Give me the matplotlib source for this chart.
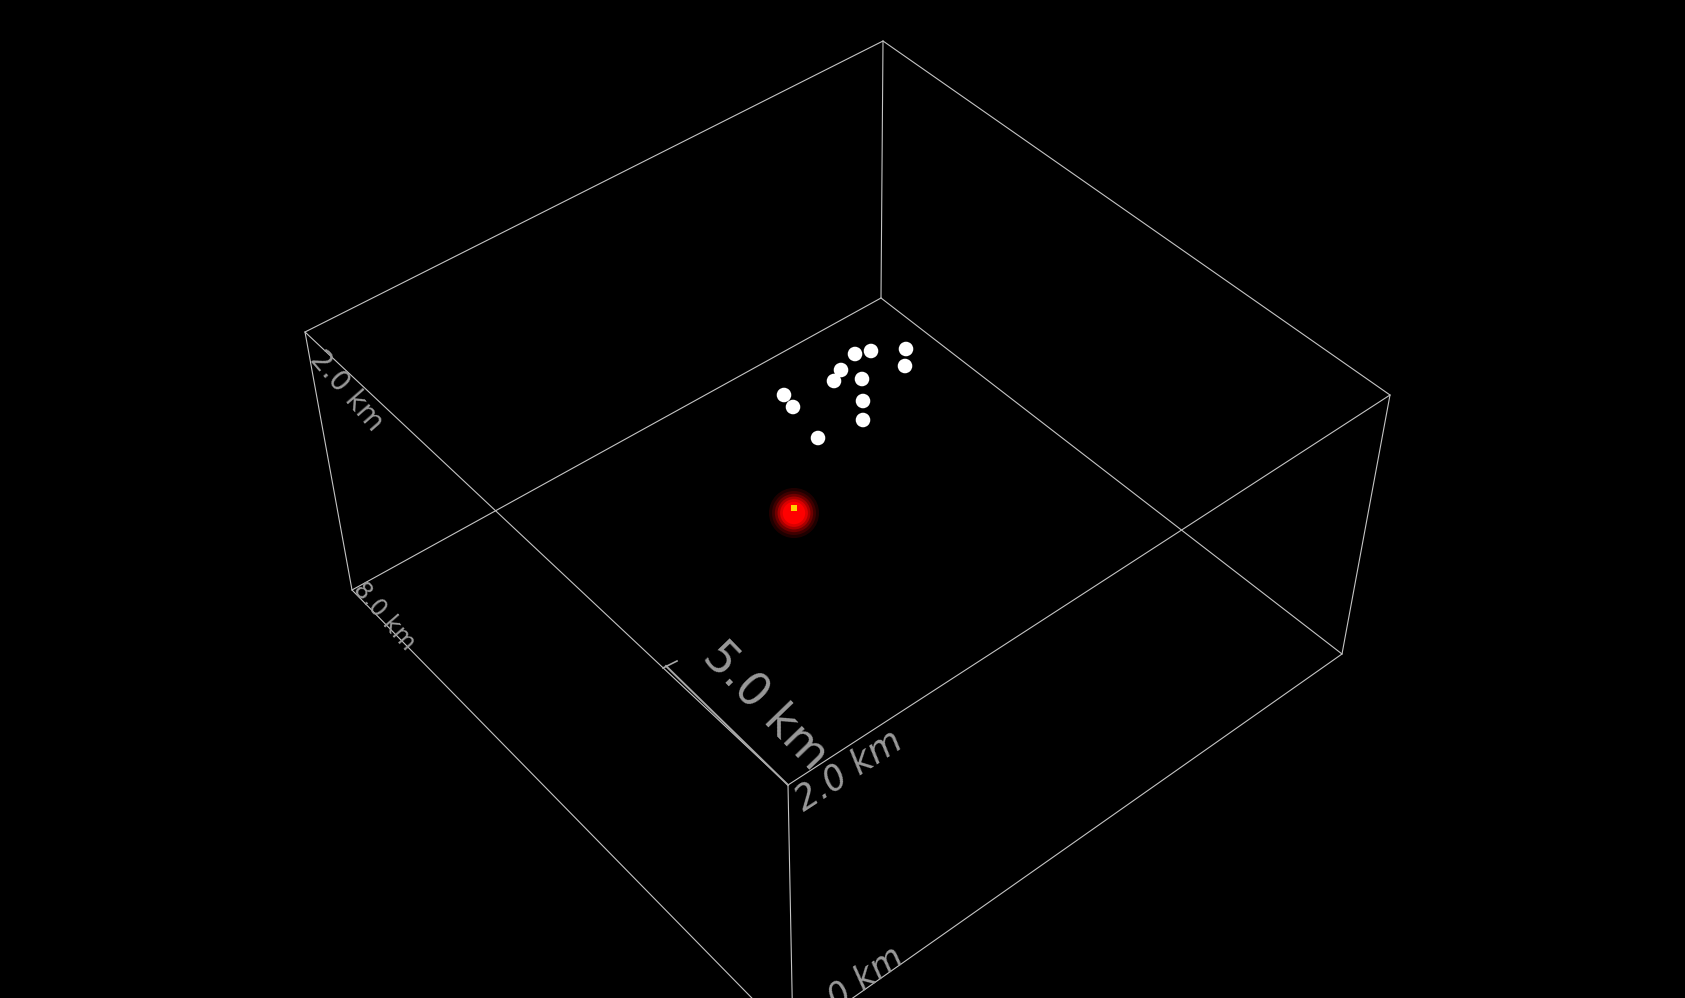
import numpy as np
import matplotlib
matplotlib.use("Agg")
import matplotlib.pyplot as plt

# Projected box corners (screen pixels)
top_back = (883, 41)
top_left = (305, 332)
top_right = (1390, 395)
top_front = (788, 785)
bot_back = (881, 298)
bot_left = (352, 590)
bot_right = (1342, 654)
bot_front = (793, 1040)   # below the frame

edges = [
    (top_back, top_left), (top_back, top_right),
    (top_left, top_front), (top_right, top_front),
    (top_back, bot_back), (top_left, bot_left),
    (top_right, bot_right), (top_front, bot_front),
    (bot_back, bot_left), (bot_back, bot_right),
    (bot_left, bot_front), (bot_right, bot_front),
]

# Stations (white dots), projected
sta_x = [855, 871, 906, 905, 841, 834, 862, 784, 793, 863, 863, 818]
sta_y = [354, 351, 349, 366, 370, 381, 379, 395, 407, 401, 420, 438]

# Event location cloud + best estimate
cloud_x, cloud_y = 794, 513
best_x, best_y = 794, 508

# Scale bar along front-left top edge
bar_start = (666, 666)
bar_end = top_front
tick_end = (677, 661)

# Labels: text, x, y, rotation, size, style
labels = [
    ("2.0 km", 347, 391, -49, 20, "normal"),
    ("8.0 km", 384, 616, -49, 17, "normal"),
    ("5.0 km", 765, 706, -46, 33, "normal"),
    ("2.0 km", 849, 770, 33, 25, "italic"),
    ("8.0 km", 853, 987, 35, 24, "italic"),
]

edge_col = "#c4c4c4"
text_col = "#9a9a9a"

fig = plt.figure(figsize=(16.85, 9.98), dpi=100, facecolor="black")
ax = fig.add_axes([0, 0, 1, 1])
ax.set_facecolor("black")
ax.set_xlim(0, 1685)
ax.set_ylim(998, 0)
ax.axis("off")

for p, q in edges:
    ax.plot([p[0], q[0]], [p[1], q[1]], color=edge_col, lw=0.8,
            solid_capstyle="round")

# scale bar
ax.plot([bar_start[0], bar_end[0]], [bar_start[1], bar_end[1]],
        color="#a8a8a8", lw=1.4)
ax.plot([bar_start[0] - 3, tick_end[0]], [bar_start[1] + 2, tick_end[1]],
        color="#a8a8a8", lw=1.2)

# location cloud: layered halos
for s, a in [(1300, 0.12), (1000, 0.15), (760, 0.25), (560, 0.4),
             (400, 0.6), (260, 1.0)]:
    ax.scatter([cloud_x], [cloud_y], s=s, color="#ff0000", alpha=a,
               edgecolors="none", zorder=3)
ax.scatter([best_x], [best_y], s=14, marker="s", color="#ffd000",
           edgecolors="none", zorder=4)

ax.scatter(sta_x, sta_y, s=110, color="white", edgecolors="none", zorder=5)

for txt, x, y, rot, size, style in labels:
    ax.text(x, y, txt, color=text_col, fontsize=size, rotation=rot,
            rotation_mode="anchor", ha="center", va="center",
            style=style, family="DejaVu Sans")

fig.savefig("out.png", dpi=100, facecolor="black")
